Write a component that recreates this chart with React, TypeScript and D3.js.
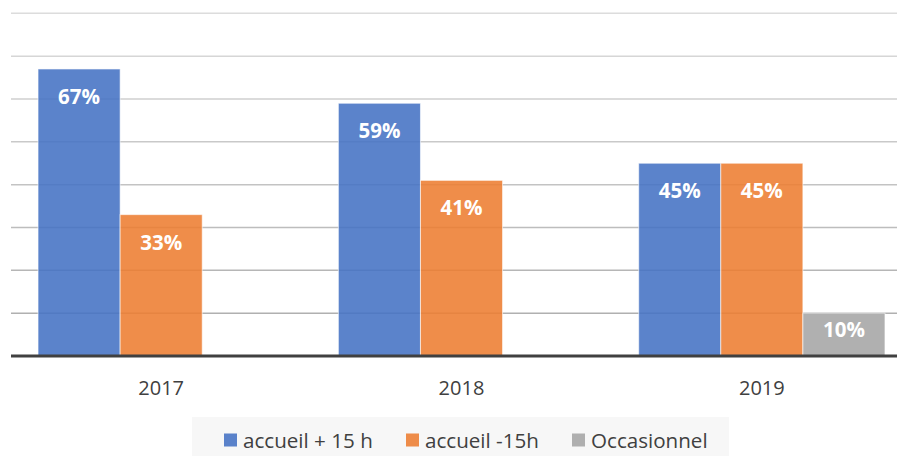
import React from "react";
import * as d3 from "d3";

const years = ["2017", "2018", "2019"];
const seriesNames = ["accueil + 15 h", "accueil -15h", "Occasionnel"];
const accueilPlus15 = [67, 59, 45];
const accueilMoins15 = [33, 41, 45];
const occasionnel = [0, 0, 10];
const gridTicks = [10, 20, 30, 40, 50, 60, 70, 80];

const colors = ["#4472C4", "#ED7D31", "#A5A5A5"];
const seriesValues = [accueilPlus15, accueilMoins15, occasionnel];

const W = 897;
const H = 456;

export default function App() {
  const y = d3.scaleLinear().domain([0, 80]).range([356, 13.3]);
  const x0 = d3.scaleBand().domain(years).range([11, 912]).padding(0);
  const bw = x0.bandwidth();
  const x1 = d3
    .scaleBand()
    .domain(seriesNames)
    .range([bw * 0.09, bw * 0.91])
    .padding(0);
  const gridColor = d3.interpolateRgb("#dcdcdc", "#b0b0b0");

  const legendItems = [
    { name: seriesNames[0], color: colors[0], x: 224 },
    { name: seriesNames[1], color: colors[1], x: 406 },
    { name: seriesNames[2], color: colors[2], x: 572 },
  ];

  return (
    <svg
      width={W}
      height={H}
      style={{ position: "absolute", left: 0, top: 0, display: "block", background: "#fff" }}
      fontFamily="'Open Sans', sans-serif"
    >
      {gridTicks.map((t, i) => (
        <line
          key={t}
          x1={11}
          x2={W}
          y1={y(t)}
          y2={y(t)}
          stroke={gridColor(1 - i / (gridTicks.length - 1))}
          strokeWidth={1.5}
        />
      ))}
      {years.map((yr, yi) => (
        <g key={yr} transform={`translate(${x0(yr)},0)`}>
          {seriesNames.map((s, si) => {
            const v = seriesValues[si][yi];
            if (!v) return null;
            const top = y(v);
            const h = y(0) - top;
            const bx = x1(s)!;
            const off = Math.min(27, h * 0.37);
            return (
              <g key={s}>
                <rect
                  x={bx}
                  y={top}
                  width={x1.bandwidth()}
                  height={h}
                  fill={colors[si]}
                  fillOpacity={0.88}
                  stroke="#ffffff"
                  strokeOpacity={0.6}
                  strokeWidth={1}
                />
                <text
                  x={bx + x1.bandwidth() / 2}
                  y={top + off}
                  textAnchor="middle"
                  dominantBaseline="central"
                  fill="#ffffff"
                  fontWeight="bold"
                  fontSize={20.5}
                >
                  {v}%
                </text>
              </g>
            );
          })}
          <text
            x={bw / 2}
            y={387}
            textAnchor="middle"
            dominantBaseline="central"
            fill="#404040"
            fontSize={20}
          >
            {yr}
          </text>
        </g>
      ))}
      <line x1={11} x2={W} y1={356} y2={356} stroke="#404040" strokeWidth={3} />
      <rect x={192} y={417} width={537} height={45} fill="#f7f7f7" />
      {legendItems.map((it) => (
        <g key={it.name}>
          <rect x={it.x} y={433.5} width={13} height={13} fill={it.color} fillOpacity={0.88} />
          <text x={it.x + 19} y={447.5} fill="#404040" fontSize={20.6}>
            {it.name}
          </text>
        </g>
      ))}
    </svg>
  );
}
